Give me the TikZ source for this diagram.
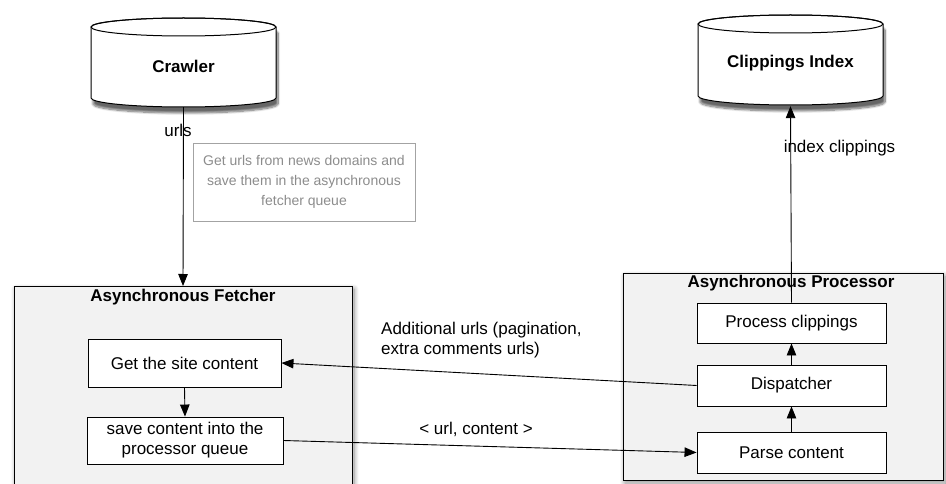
\documentclass[tikz,border=0pt]{standalone}
\usepackage{fontspec}
\setmainfont{Liberation Sans}
\usetikzlibrary{arrows.meta,shadows.blur}

\definecolor{panelgray}{HTML}{F2F2F2}
\definecolor{notegray}{HTML}{8C8C8C}

\tikzset{
  base/.style={font=\fontsize{17}{20}\selectfont},
  panel/.style={draw=black, line width=1pt, fill=panelgray,
    blur shadow={shadow xshift=2pt, shadow yshift=-3pt, shadow blur steps=10, shadow blur radius=5pt, shadow opacity=45}},
  stepbox/.style={draw=black, line width=0.9pt, fill=white, base, align=center, inner sep=0pt},
  dbshape/.style={draw=black, line width=1pt, fill=white,
    blur shadow={shadow xshift=2pt, shadow yshift=-6pt, shadow blur steps=10, shadow opacity=60}},
  flow/.style={draw=black, line width=0.9pt, -{Triangle[length=12pt,width=9.5pt]}},
  lbl/.style={base, inner sep=0pt},
  note/.style={draw=notegray!80, line width=0.8pt, text=notegray, align=center,
    font=\fontsize{14}{20}\selectfont, inner sep=0pt}
}

\begin{document}
\begin{tikzpicture}[x=1pt,y=-1pt]
  \useasboundingbox (0,0) rectangle (946,484);

  % --- databases (cylinders) ---
  \path[dbshape] (91,27) -- (91,98) arc[start angle=180, end angle=360, x radius=92.5pt, y radius=9pt]
       -- (276,27) arc[start angle=0, end angle=180, x radius=92.5pt, y radius=9pt] -- cycle;
  \draw[line width=1pt] (183.5,27) ellipse[x radius=92.5pt, y radius=9pt];
  \node[inner sep=0pt, minimum width=185pt, minimum height=82pt, font=\fontsize{17}{20}\selectfont\bfseries]
    (crawler) at (183.5,66) {Crawler};

  \path[dbshape] (698,24) -- (698,96) arc[start angle=180, end angle=360, x radius=92.5pt, y radius=9pt]
       -- (883,24) arc[start angle=0, end angle=180, x radius=92.5pt, y radius=9pt] -- cycle;
  \draw[line width=1pt] (790.5,24) ellipse[x radius=92.5pt, y radius=9pt];
  \node[inner sep=0pt, minimum width=185pt, minimum height=86pt, font=\fontsize{17}{20}\selectfont\bfseries]
    (index) at (790.5,63) {Clippings Index};

  % --- containers ---
  \path[panel] (14,286) rectangle (352,520);
  \path[panel] (623,273) rectangle (943,480);
  \coordinate (fetchtop) at (183,286);
  \node[lbl, font=\fontsize{17}{20}\selectfont\bfseries] (fetchtitle) at (183,297) {Asynchronous Fetcher};
  \node[lbl, font=\fontsize{17}{20}\selectfont\bfseries] (proctitle) at (791,283) {Asynchronous Processor};

  % --- fetcher steps ---
  \node[stepbox, minimum width=193pt, minimum height=48pt] (getsite) at (184.5,363) {Get the site content};
  \node[stepbox, minimum width=196pt, minimum height=47pt] (savequeue) at (185,440.5)
    {save content into the\\processor queue};

  % --- processor steps ---
  \node[stepbox, minimum width=189pt, minimum height=40pt] (procclip) at (791.5,323) {Process clippings};
  \node[stepbox, minimum width=189pt, minimum height=41pt] (dispatch) at (791.5,385.5) {Dispatcher};
  \node[stepbox, minimum width=189pt, minimum height=41pt] (parse) at (791.5,452.5) {Parse content};

  % --- note ---
  \node[note, minimum width=222pt, minimum height=78pt] (crawlnote) at (304,182)
    {Get urls from news domains and\\save them in the asynchronous\\fetcher queue};

  % --- connectors ---
  \draw[flow] (crawler.south) -- (fetchtop);
  \node[lbl] (urlslbl) at (178,130) {urls};

  \draw[flow] (getsite.south) -- (savequeue.north);
  \draw[flow] (dispatch.west) -- (getsite.east);
  \draw[flow] (savequeue.east) -- (parse.west);
  \draw[flow] (parse.north) -- (dispatch.south);
  \draw[flow] (dispatch.north) -- (procclip.south);
  \draw[flow] (procclip.north) -- (index.south);

  \node[lbl, anchor=west, align=left] (extralbl) at (381,340)
    {Additional urls (pagination,\\extra comments urls)};
  \node[lbl] (pairlbl) at (476,429) {< url, content >};
  \node[lbl] (indexlbl) at (839.5,148) {index clippings};
\end{tikzpicture}
\end{document}
